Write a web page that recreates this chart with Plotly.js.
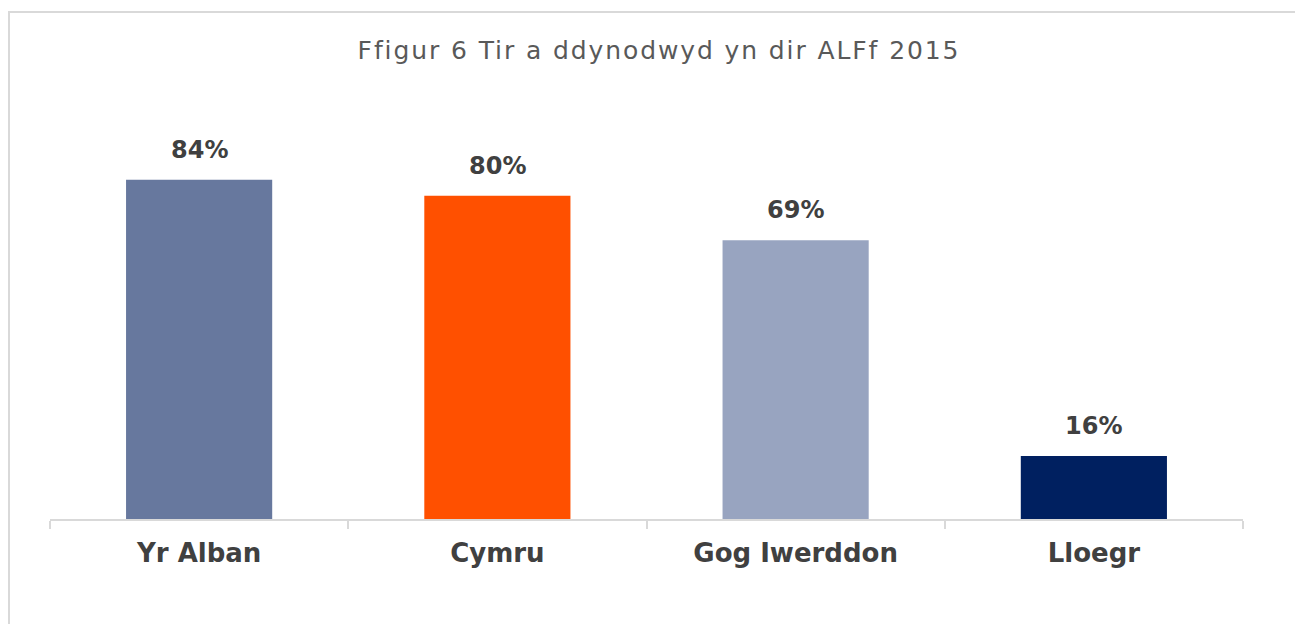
<!DOCTYPE html>
<html>
<head>
<meta charset="utf-8">
<script src="https://cdn.plot.ly/plotly-3.0.1.min.js"></script>
<style>html,body{margin:0;padding:0;background:#fff;}#chart{width:1295px;height:624px;}
.gtitle{letter-spacing:1.9px;}</style>
</head>
<body>
<div id="chart"></div>
<script>
var categories = ["Yr Alban", "Cymru", "Gog Iwerddon", "Lloegr"];
var values = [84, 80, 69, 15.6];
var barColors = ["#67789E", "#FF5000", "#98A4C0", "#002060"];
var chartTitle = "Ffigur 6 Tir a ddynodwyd yn dir ALFf 2015";

var L = 50, R = 52, T = 115, B = 105, W = 1295, H = 624;
var pw = W - L - R, ph = H - T - B;
function px2x(p){ return (p - L) / pw; }
function py2y(p){ return (H - B - p) / ph; }

var trace = {
  type: "bar",
  x: categories,
  y: values,
  marker: {color: barColors, line: {width: 0}},
  hoverinfo: "none"
};

var annotations = categories.map(function(c, i){
  return {
    x: c, y: values[i], xref: "x", yref: "y",
    text: "<b>" + Math.round(values[i]) + "%</b>",
    showarrow: false, yanchor: "bottom", yshift: 14,
    font: {family: "DejaVu Sans", size: 24, color: "#404040"}
  };
});

var layout = {
  width: W, height: H,
  margin: {l: L, r: R, t: T, b: B},
  paper_bgcolor: "#ffffff",
  plot_bgcolor: "#ffffff",
  title: {text: chartTitle, x: 659 / W, xref: "container", y: 1 - 50/H, yanchor: "middle",
          font: {family: "DejaVu Sans", size: 25, color: "#595959"}},
  bargap: 0.51,
  showlegend: false,
  xaxis: {
    showline: true, linecolor: "#d9d9d9", linewidth: 2,
    ticks: "outside", tickson: "boundaries", ticklen: 8, tickcolor: "#d9d9d9", tickwidth: 2,
    ticklabelstandoff: 10,
    tickfont: {family: "DejaVu Sans", size: 26, color: "#404040"},
    showgrid: false, zeroline: false, fixedrange: true,
    tickprefix: "<b>", ticksuffix: "</b>"
  },
  yaxis: {range: [0, 100], visible: false, showgrid: false, zeroline: false, fixedrange: true},
  annotations: annotations,
  shapes: [
    {type: "line", xref: "paper", yref: "paper", x0: px2x(9), x1: px2x(9), y0: py2y(11), y1: py2y(624),
     line: {color: "#d9d9d9", width: 2}},
    {type: "line", xref: "paper", yref: "paper", x0: px2x(8), x1: px2x(1295), y0: py2y(12), y1: py2y(12),
     line: {color: "#d9d9d9", width: 2}}
  ]
};

Plotly.newPlot("chart", [trace], layout, {displayModeBar: false, staticPlot: true});
</script>
</body>
</html>
